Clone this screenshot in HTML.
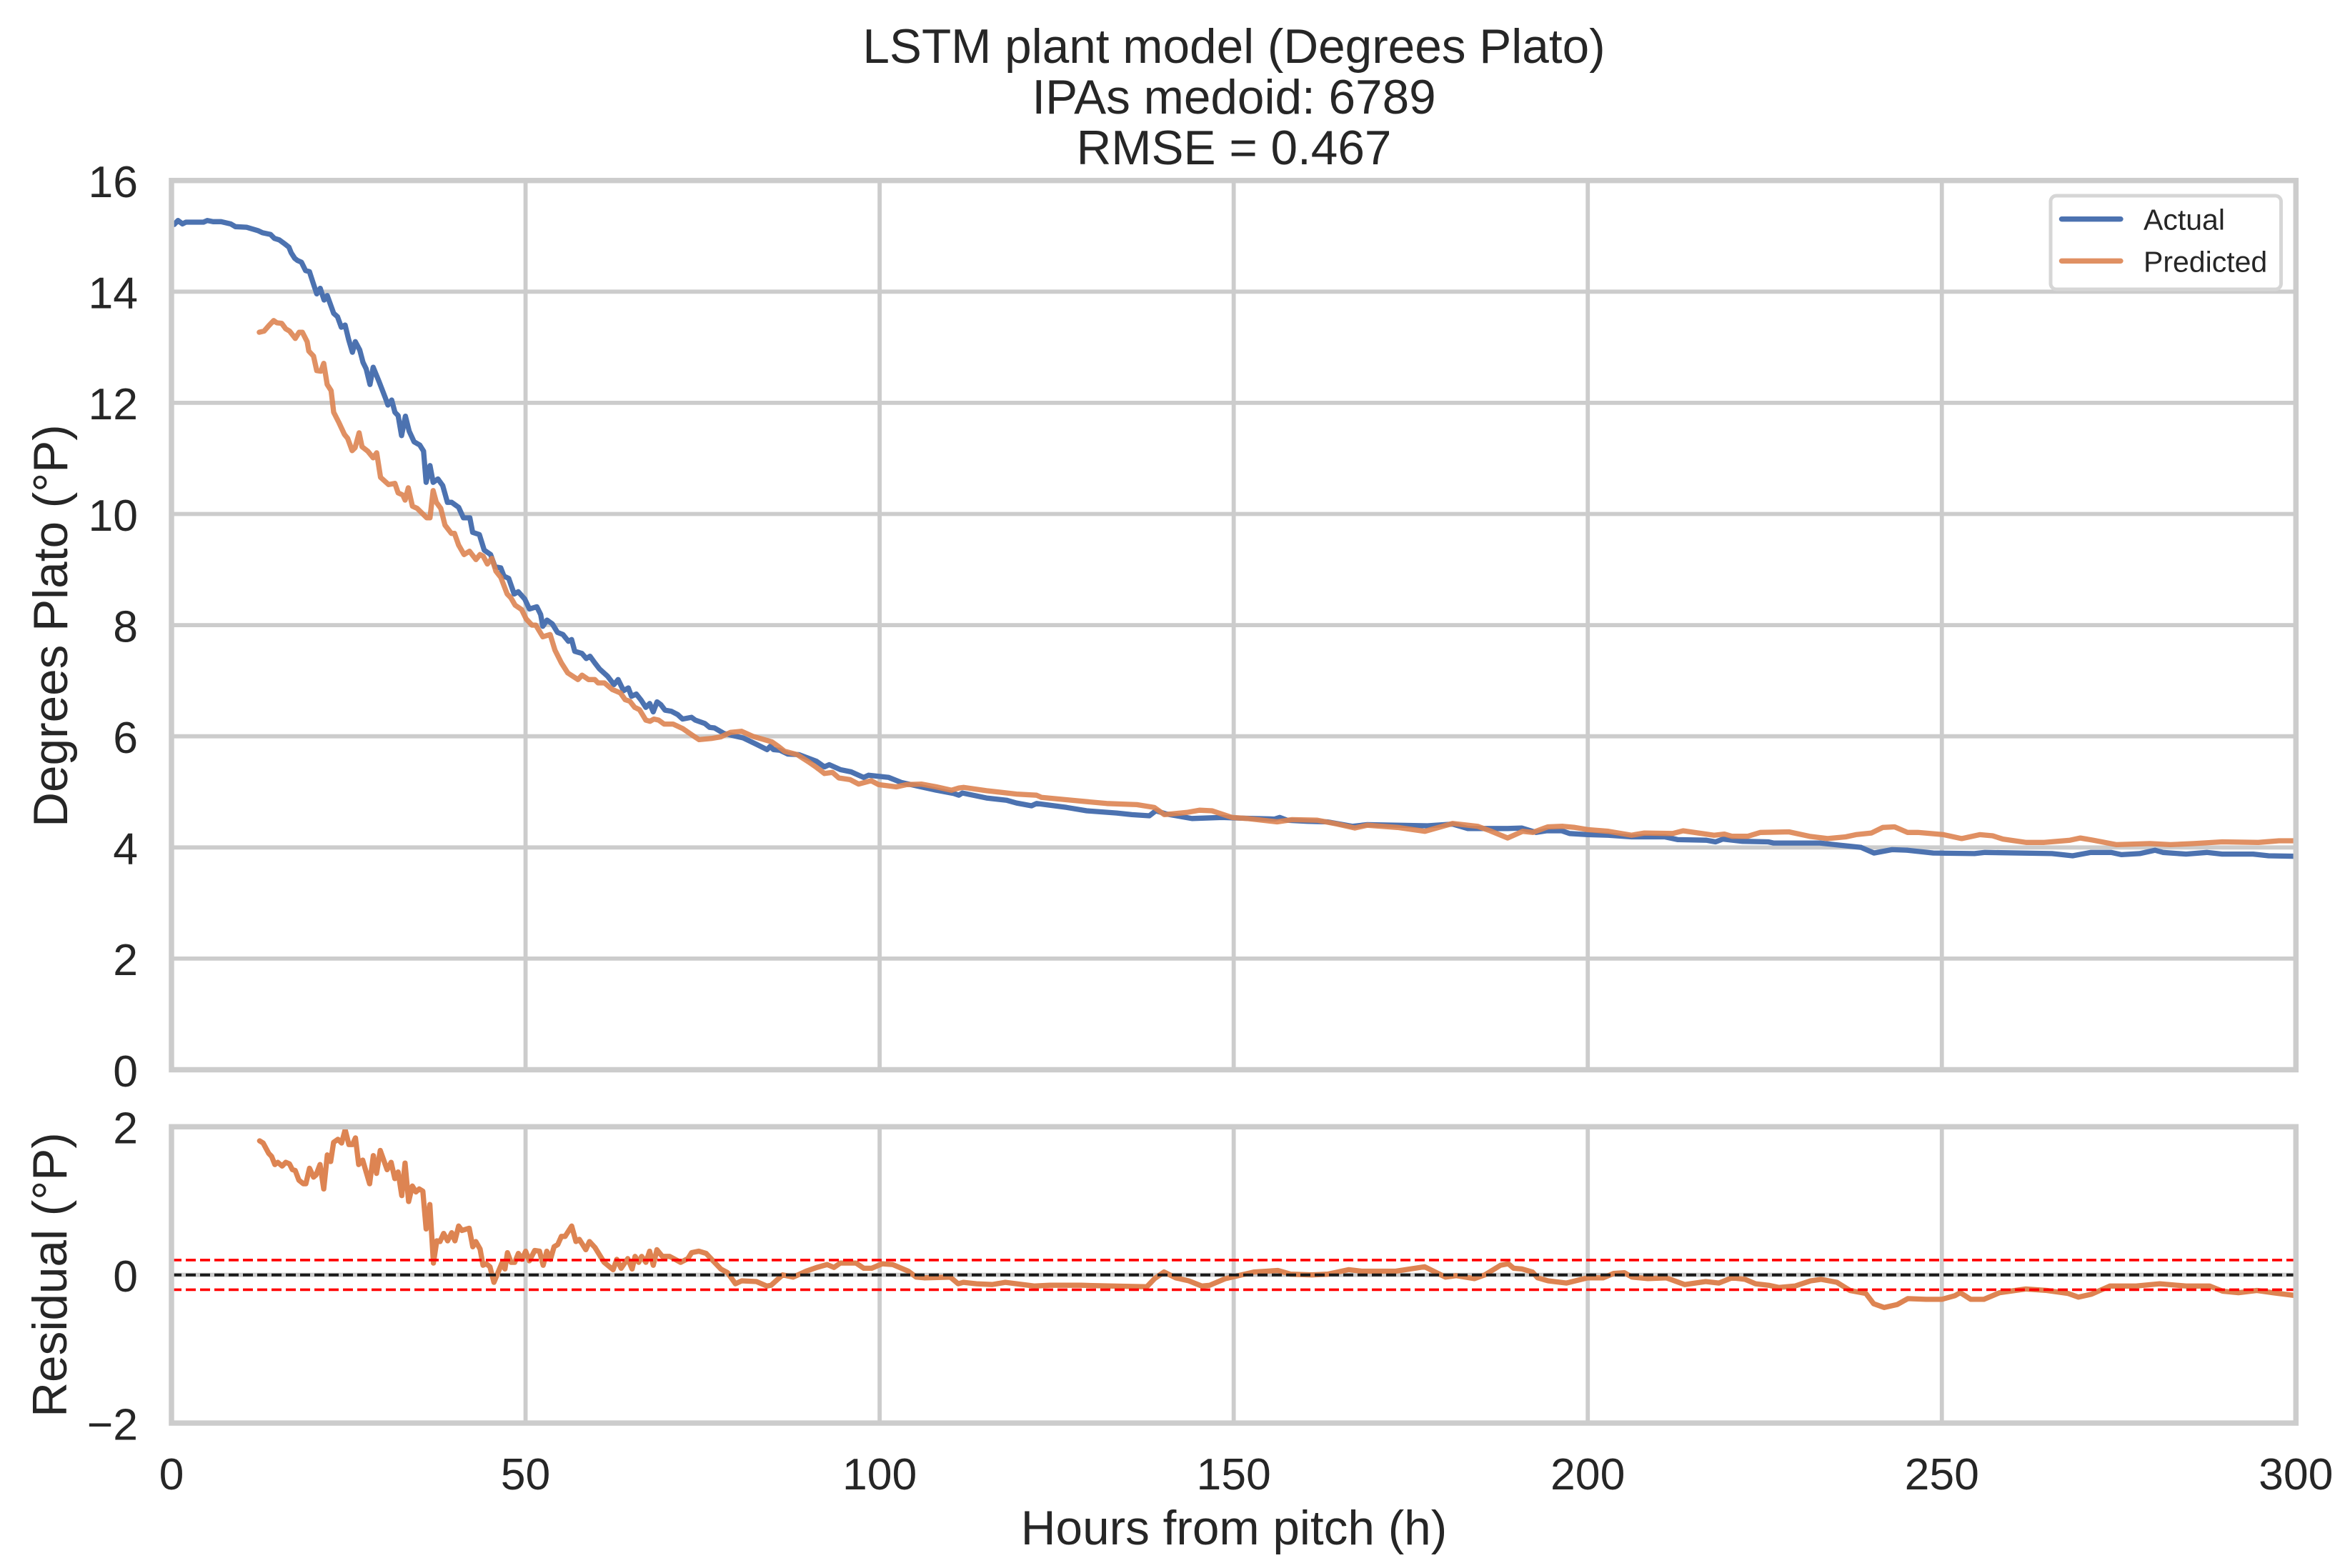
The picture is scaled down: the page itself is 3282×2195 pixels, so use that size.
<!DOCTYPE html>
<html lang="en">
<head>
<meta charset="utf-8">
<title>LSTM plant model (Degrees Plato)</title>
<style>
html,body{margin:0;padding:0;background:#fff;}
svg{display:block;}
text{font-family:"Liberation Sans",Arial,sans-serif;fill:#262626;}
</style>
</head>
<body>
<svg id="chart" xmlns="http://www.w3.org/2000/svg" width="3282" height="2195" viewBox="0 0 3282 2195">
  <rect x="0" y="0" width="3282" height="2195" fill="#ffffff"/>
  <defs>
    <clipPath id="clip-top"><rect x="240" y="252.7" width="2973.3" height="1244.8"/></clipPath>
    <clipPath id="clip-bottom"><rect x="240" y="1577.3" width="2973.3" height="414.8"/></clipPath>
  </defs>
  <g text-anchor="middle" font-size="67.5">
    <text x="1727" y="88">LSTM plant model (Degrees Plato)</text>
    <text x="1727" y="159">IPAs medoid: 6789</text>
    <text x="1727" y="230">RMSE = 0.467</text>
  </g>
  <g id="grid-layer"></g>
  <g id="top-marks" clip-path="url(#clip-top)"></g>
  <g id="bottom-marks" clip-path="url(#clip-bottom)"></g>
  <rect x="240" y="252.7" width="2973.3" height="1244.8" fill="none" stroke="#cccccc" stroke-width="7.5"/>
  <rect x="240" y="1577.3" width="2973.3" height="414.8" fill="none" stroke="#cccccc" stroke-width="7.5"/>
  <g id="tick-layer" font-size="62.5"></g>
  <text x="94" y="876" font-size="67.5" text-anchor="middle" transform="rotate(-90 94 876)">Degrees Plato (°P)</text>
  <text x="93" y="1784.5" font-size="67.5" text-anchor="middle" transform="rotate(-90 93 1784.5)">Residual (°P)</text>
  <text x="1727" y="2162" font-size="67.5" text-anchor="middle">Hours from pitch (h)</text>
  <g>
    <rect x="2870" y="274" width="322.5" height="131" rx="8" ry="8" fill="#ffffff" fill-opacity="0.8" stroke="#d6d6d6" stroke-width="5"/>
    <line x1="2885.4" y1="306.7" x2="2968" y2="306.7" stroke="#4c72b0" stroke-width="7.3" stroke-linecap="round"/>
    <text x="3000" y="321.7" font-size="41">Actual</text>
    <line x1="2885.4" y1="365.3" x2="2968" y2="365.3" stroke="#dd8452" stroke-opacity="0.9" stroke-width="7.3" stroke-linecap="round"/>
    <text x="3000" y="380.7" font-size="41">Predicted</text>
  </g>
</svg>
<script>
const xTickValues = [0, 50, 100, 150, 200, 250, 300];
const topTickValues = [0, 2, 4, 6, 8, 10, 12, 14, 16];
const bottomTickValues = [-2, 0, 2];
const residualBand = [0.2, -0.2];
const residualZero = [0];

const actualHours = [0.38,0.92,1.55,2.04,4.52,5.06,5.87,7,8.35,9.03,10.6,12.18,12.85,13.98,14.52,15.24,16,16.59,16.9,17.4,17.81,18.35,18.93,19.48,19.92,20.51,21.01,21.55,22,22.9,23.44,23.98,24.52,25.01,25.55,25.96,26.59,27.04,27.49,28.03,28.48,29.29,30.2,30.56,31.1,31.55,32,32.49,33.03,33.57,34.25,35.06,35.6,35.96,36.5,36.95,37.62,38.3,38.97,39.56,40.55,41.23,42.13,42.53,43.48,44.16,45.06,45.69,46.5,46.95,47.62,48.39,48.98,49.88,50.55,51.59,52.13,52.44,53.03,53.79,54.51,55.28,56.05,56.5,56.95,57.98,58.57,59.11,59.78,60.46,61.59,62.49,63.07,63.84,64.51,64.96,65.64,66.32,66.99,67.53,68.03,68.57,69.11,69.69,70.59,71.5,72.17,73.43,73.97,75.32,76,76.67,78.02,79.38,80.73,82.53,84.11,84.56,85.01,85.91,87.03,88.61,91.09,92.21,92.89,94.47,95.97,97.74,98.45,101.28,103.05,105.88,108,110.48,111.19,111.68,115.08,117.91,119.33,121.45,122.16,126.41,129.24,133.48,135.61,138.09,139,140.56,144.1,148.35,150.47,155.78,156.49,157.55,160.38,163.21,166.75,168.87,177.37,180.91,183.03,188.69,190.67,192.7,194.16,196.34,197.44,199.99,202.9,206.18,210.91,212.73,216.74,218.05,219.07,221.84,225.48,226.21,232.77,235.68,238.6,240.42,242.97,245.15,248.79,254.62,256.08,265.55,268.46,271.01,273.93,275.38,277.93,280.12,281.21,284.49,287.41,289.59,293.96,296.15,300];
const actualValues = [15.21,15.28,15.22,15.25,15.25,15.28,15.26,15.26,15.22,15.17,15.16,15.1,15.06,15.03,14.96,14.93,14.86,14.8,14.7,14.6,14.56,14.53,14.38,14.36,14.19,13.96,14.06,13.85,13.93,13.61,13.55,13.36,13.4,13.14,12.91,13.1,12.95,12.73,12.61,12.33,12.64,12.39,12.09,11.96,12.05,11.83,11.77,11.41,11.76,11.49,11.3,11.24,11.13,10.57,10.87,10.57,10.63,10.51,10.21,10.21,10.12,9.93,9.93,9.67,9.63,9.35,9.27,9.05,9.03,8.88,8.84,8.56,8.6,8.47,8.29,8.33,8.19,7.98,8.09,8.02,7.87,7.83,7.71,7.74,7.53,7.49,7.4,7.44,7.32,7.21,7.08,6.93,7.02,6.82,6.87,6.72,6.76,6.65,6.52,6.59,6.44,6.62,6.57,6.47,6.45,6.39,6.31,6.34,6.29,6.23,6.16,6.15,6.05,6.01,5.97,5.86,5.76,5.82,5.76,5.75,5.68,5.67,5.55,5.45,5.49,5.4,5.36,5.26,5.3,5.26,5.17,5.09,5.03,4.97,4.94,4.98,4.89,4.85,4.8,4.75,4.79,4.72,4.66,4.62,4.59,4.57,4.66,4.6,4.52,4.54,4.53,4.51,4.54,4.49,4.47,4.46,4.38,4.41,4.39,4.42,4.34,4.34,4.35,4.27,4.3,4.3,4.25,4.23,4.22,4.19,4.19,4.14,4.13,4.1,4.15,4.11,4.1,4.08,4.08,4.04,4,3.9,3.96,3.95,3.9,3.89,3.91,3.89,3.85,3.91,3.91,3.87,3.89,3.95,3.91,3.88,3.91,3.88,3.88,3.85,3.84];

const predictedHours = [12.4,13.08,13.75,14.43,14.88,15.56,16.14,16.68,17.49,18.03,18.48,19.16,19.39,20.06,20.51,21.1,21.5,21.99,22.54,22.9,23.66,24.43,24.88,25.51,25.92,26.5,26.91,27.72,28.48,28.98,29.52,30.65,31.55,32,32.67,32.99,33.44,34.02,34.7,36.05,36.5,36.95,37.4,38.03,38.62,39.52,39.97,40.55,41.32,42.08,42.99,43.57,44.02,44.61,45.24,45.82,46.5,47.4,47.94,48.52,49.43,50.1,50.91,51.45,52.44,53.48,54.15,55.06,55.96,57.4,57.98,58.88,59.78,60.24,61.14,62.26,63.39,64.06,64.74,65.41,66.09,66.99,67.58,68.12,68.79,69.56,70.82,72.17,73.43,74.51,76.22,77.57,78.93,80.5,82.08,84.78,85.68,86.58,88.37,89.96,91.09,92.21,93.34,94.24,95.82,97.03,98.8,99.86,102.34,103.76,105.88,108,110.13,111.19,111.9,115.08,119.33,122.16,122.87,127.82,132.07,136.32,138.79,140.21,143.39,145.16,146.93,149.76,151.89,156.13,158.26,161.8,164.63,167.11,168.87,173.12,177.01,180.91,184.44,186.21,188.69,190.82,192.23,194.36,196.48,198.16,199.99,202.9,206.18,208,212,213.46,217.83,219.29,220.38,222.57,224.39,228.4,231.31,233.86,236.41,237.87,240.05,241.66,243.33,245.15,246.61,250.25,252.8,255.35,257.17,258.63,261.91,264.46,268.1,269.56,271.38,274.66,279.39,282.3,285.58,289.59,294.69,297.6,300];
const predictedValues = [13.27,13.29,13.39,13.48,13.44,13.43,13.33,13.29,13.16,13.27,13.27,13.1,12.93,12.84,12.58,12.57,12.71,12.33,12.22,11.83,11.64,11.43,11.36,11.14,11.19,11.46,11.21,11.13,11.01,11.1,10.66,10.53,10.55,10.38,10.34,10.25,10.47,10.14,10.1,9.93,9.93,10.42,10.21,10.1,9.8,9.65,9.65,9.44,9.27,9.33,9.18,9.27,9.24,9.1,9.2,8.97,8.86,8.56,8.49,8.36,8.28,8.11,8,8,7.79,7.83,7.55,7.32,7.14,7.02,7.1,7.02,7.02,6.96,6.96,6.84,6.78,6.66,6.63,6.52,6.48,6.29,6.27,6.31,6.29,6.22,6.22,6.14,6.03,5.94,5.96,5.99,6.07,6.09,6,5.9,5.82,5.73,5.67,5.54,5.44,5.33,5.35,5.25,5.22,5.14,5.2,5.13,5.09,5.13,5.14,5.09,5.03,5.07,5.08,5.02,4.96,4.94,4.9,4.84,4.79,4.77,4.72,4.59,4.63,4.67,4.66,4.54,4.52,4.46,4.5,4.49,4.42,4.35,4.4,4.36,4.29,4.43,4.38,4.3,4.17,4.29,4.27,4.37,4.38,4.36,4.32,4.29,4.22,4.26,4.25,4.3,4.22,4.24,4.2,4.2,4.27,4.28,4.2,4.16,4.19,4.23,4.26,4.36,4.37,4.27,4.27,4.23,4.16,4.23,4.21,4.15,4.09,4.09,4.13,4.17,4.13,4.05,4.07,4.05,4.07,4.1,4.09,4.12,4.12];

const residualHours = [12.44,12.95,13.73,14.14,14.6,15.01,15.63,16.14,16.66,17.07,17.48,17.99,18.62,18.98,19.49,20.06,20.42,20.98,21.5,22.01,22.48,22.89,23.51,24.02,24.53,25.05,25.56,25.98,26.44,27,27.98,28.5,28.96,29.48,30.45,31.02,31.54,32,32.52,32.98,33.49,34.01,34.52,34.98,35.5,35.96,36.48,36.99,37.46,37.92,38.43,39,39.57,40.03,40.55,41.01,42.04,42.55,42.97,43.58,43.99,44.46,44.97,45.54,46.67,47.09,47.44,47.96,48.47,48.99,49.5,50.02,50.53,51.3,51.97,52.49,53,53.52,54.03,54.55,55.06,55.58,56.51,57.12,57.59,58.51,59.03,59.8,61.09,62.37,62.89,63.5,64.43,65.05,65.46,65.98,66.39,67,67.52,68.04,68.55,69.32,70.35,71.9,72.93,73.44,74.47,75.5,76.68,77.57,78.53,79.64,80.53,82.6,84.08,84.67,86.3,87.78,89.63,91.11,92.59,93.55,94.44,96.66,97.77,98.88,100.36,101.84,104.06,105.17,106.28,109.98,111.09,111.83,113.68,115.9,117.75,121.82,124.04,128.48,132.92,137.73,138.84,140.17,141.8,143.65,145.5,146.61,148.83,150.68,152.9,156.23,158.08,161.04,163.26,166.22,168.07,172.88,176.95,179.91,181.39,183.98,185.46,187.68,188.79,189.53,190.7,192.18,192.92,194.41,197,199.97,202.19,203.67,205.16,206.27,208.49,211.09,213.68,216.65,218.5,220.35,222.21,223.69,225.54,227.02,229.25,231.47,232.95,235.18,237.03,239.26,240.37,241.85,243.7,245.19,247.78,250,251.86,252.6,254.08,255.94,258.16,261.86,264.83,267.8,269.28,271.13,273.73,277.43,280.77,284.47,287.81,289.66,291.89,294.48,296.71,300];
const residualValues = [1.81,1.78,1.64,1.6,1.49,1.52,1.47,1.52,1.5,1.42,1.41,1.28,1.23,1.23,1.44,1.32,1.35,1.49,1.16,1.62,1.53,1.79,1.83,1.78,1.96,1.76,1.76,1.85,1.49,1.55,1.23,1.61,1.37,1.68,1.42,1.52,1.3,1.39,1.07,1.51,0.99,1.2,1.12,1.16,1.13,0.62,0.95,0.16,0.46,0.45,0.56,0.46,0.57,0.46,0.66,0.6,0.63,0.38,0.45,0.35,0.13,0.15,0.11,-0.1,0.16,0.08,0.3,0.17,0.17,0.29,0.21,0.32,0.19,0.33,0.32,0.13,0.32,0.21,0.38,0.41,0.52,0.52,0.66,0.45,0.48,0.34,0.45,0.37,0.17,0.07,0.21,0.09,0.22,0.08,0.25,0.17,0.25,0.17,0.32,0.13,0.34,0.25,0.25,0.17,0.22,0.3,0.32,0.29,0.17,0.08,0.03,-0.12,-0.08,-0.09,-0.15,-0.14,0,-0.03,0.05,0.1,0.14,0.1,0.16,0.16,0.09,0.09,0.15,0.14,0.05,-0.03,-0.04,-0.03,-0.12,-0.1,-0.12,-0.13,-0.1,-0.15,-0.14,-0.14,-0.15,-0.16,-0.05,0.04,-0.04,-0.08,-0.15,-0.14,-0.05,-0.01,0.04,0.06,0.01,0,0.01,0.07,0.05,0.05,0.11,-0.03,-0.01,-0.05,0,0.13,0.15,0.09,0.08,0.04,-0.04,-0.08,-0.11,-0.04,-0.04,0.02,0.03,-0.03,-0.05,-0.04,-0.13,-0.09,-0.11,-0.04,-0.06,-0.12,-0.14,-0.17,-0.15,-0.08,-0.06,-0.1,-0.21,-0.25,-0.39,-0.44,-0.4,-0.32,-0.33,-0.33,-0.28,-0.24,-0.33,-0.33,-0.24,-0.19,-0.21,-0.25,-0.3,-0.26,-0.15,-0.15,-0.12,-0.15,-0.15,-0.22,-0.24,-0.21,-0.24,-0.28];

const SVG_NS = 'http://www.w3.org/2000/svg';
const gridLayer = document.getElementById('grid-layer');
const tickLayer = document.getElementById('tick-layer');
const topMarks = document.getElementById('top-marks');
const bottomMarks = document.getElementById('bottom-marks');

function xScale(hours) { return 240 + (hours / 300) * 2973.3; }
function yTopScale(value) { return 1497.5 - (value / 16) * 1244.8; }
function yBottomScale(value) { return 1784.7 - (value / 2) * 207.4; }

function makeLine(parent, x1, y1, x2, y2, stroke, width, dash) {
  const el = document.createElementNS(SVG_NS, 'line');
  el.setAttribute('x1', x1);
  el.setAttribute('y1', y1);
  el.setAttribute('x2', x2);
  el.setAttribute('y2', y2);
  el.setAttribute('stroke', stroke);
  el.setAttribute('stroke-width', width);
  if (dash) el.setAttribute('stroke-dasharray', dash);
  parent.appendChild(el);
  return el;
}
function makeText(x, y, anchor, content) {
  const el = document.createElementNS(SVG_NS, 'text');
  el.setAttribute('x', x);
  el.setAttribute('y', y);
  el.setAttribute('text-anchor', anchor);
  el.textContent = content;
  tickLayer.appendChild(el);
  return el;
}
function makePath(parent, hours, values, yFn, stroke, opacity) {
  const d = hours.map((h, i) => (i ? 'L' : 'M') + xScale(h).toFixed(1) + ' ' + yFn(values[i]).toFixed(1)).join('');
  const el = document.createElementNS(SVG_NS, 'path');
  el.setAttribute('d', d);
  el.setAttribute('fill', 'none');
  el.setAttribute('stroke', stroke);
  el.setAttribute('stroke-opacity', opacity);
  el.setAttribute('stroke-width', '7.3');
  el.setAttribute('stroke-linejoin', 'round');
  el.setAttribute('stroke-linecap', 'round');
  parent.appendChild(el);
  return el;
}
function tickLabel(v) { return v < 0 ? '\u2212' + Math.abs(v) : String(v); }

xTickValues.forEach(function (t) {
  if (t > 0 && t < 300) {
    const gridTop = makeLine(gridLayer, xScale(t), 252.7, xScale(t), 1497.5, '#cccccc', 5.8);
    
    
    const gridBottom = makeLine(gridLayer, xScale(t), 1577.3, xScale(t), 1992.1, '#cccccc', 5.8);
    
    
  }
  const label = makeText(xScale(t), 2085, 'middle', tickLabel(t));
  
  
});
topTickValues.forEach(function (t) {
  if (t > 0 && t < 16) {
    const grid = makeLine(gridLayer, 240, yTopScale(t), 3213.3, yTopScale(t), '#cccccc', 5.8);
    
    
  }
  const label = makeText(193, yTopScale(t) + 23.3, 'end', tickLabel(t));
  
  
});
bottomTickValues.forEach(function (t) {
  if (t > -2 && t < 2) {
    const grid = makeLine(gridLayer, 240, yBottomScale(t), 3213.3, yBottomScale(t), '#cccccc', 5.8);
    
    
  }
  const label = makeText(193, yBottomScale(t) + 23.3, 'end', tickLabel(t));
  
  
});

const actualLine = makePath(topMarks, actualHours, actualValues, yTopScale, '#4c72b0', 1);


const predictedLine = makePath(topMarks, predictedHours, predictedValues, yTopScale, '#dd8452', 0.9);


const residualLine = makePath(bottomMarks, residualHours, residualValues, yBottomScale, '#dd8452', 1);



residualZero.forEach(function (v) {
  const zero = makeLine(bottomMarks, 240, yBottomScale(v), 3213.3, yBottomScale(v), '#1a1a1a', 4, '14 6');
  
  
});
residualBand.forEach(function (v) {
  const band = makeLine(bottomMarks, 240, yBottomScale(v), 3213.3, yBottomScale(v), '#ff0000', 3.6, '14 6');
  
  
});
</script>
</body>
</html>
